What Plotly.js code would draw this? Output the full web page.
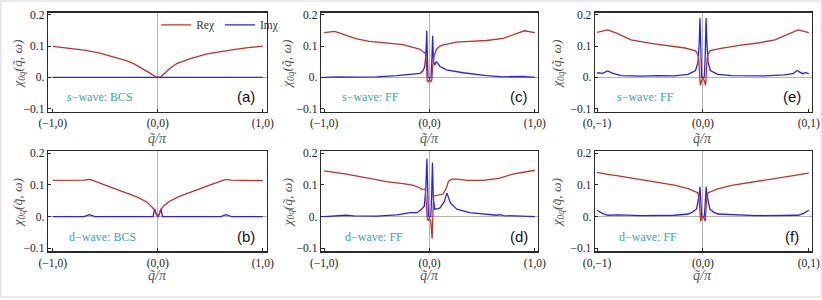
<!DOCTYPE html>
<html><head><meta charset="utf-8">
<script src="https://cdn.plot.ly/plotly-3.0.1.min.js"></script>
<style>html,body{margin:0;padding:0;background:#fff}</style>
</head><body>
<div id="chart" style="width:822px;height:300px"></div>
<script>
// ---- data ----
const qA_re = [-1, -0.85, -0.7, -0.55, -0.4, -0.3, -0.23, -0.14, -0.07, -0.025, 0, 0.03, 0.06, 0.12, 0.18, 0.31, 0.47, 0.6, 0.72, 0.86, 1];
const reA   = [0.099, 0.094, 0.087, 0.078, 0.064, 0.054, 0.044, 0.028, 0.013, 0.003, 0.0, 0.002, 0.012, 0.03, 0.044, 0.06, 0.075, 0.083, 0.089, 0.095, 0.1];
const qA_im = [-1, 0, 1];
const imA   = [0, 0, 0];

const qB_re = [-1, -0.8, -0.7, -0.65, -0.6, -0.5, -0.4, -0.3, -0.2, -0.1, -0.05, -0.03, -0.015, 0, 0.015, 0.03, 0.05, 0.1, 0.2, 0.3, 0.4, 0.5, 0.6, 0.65, 0.7, 0.8, 1];
const reB   = [0.114, 0.114, 0.115, 0.117, 0.112, 0.099, 0.087, 0.075, 0.062, 0.045, 0.03, 0.021, 0.008, 0.0, 0.008, 0.021, 0.031, 0.046, 0.063, 0.076, 0.088, 0.1, 0.112, 0.117, 0.115, 0.114, 0.113];
const qB_im = [-1, -0.7, -0.67, -0.65, -0.63, -0.6, -0.045, -0.03, -0.018, -0.006, 0, 0.006, 0.018, 0.03, 0.045, 0.6, 0.63, 0.65, 0.67, 0.7, 1];
const imB   = [0, 0, 0.004, 0.006, 0.004, 0, 0, 0.024, 0.01, 0.0, 0, 0.0, 0.01, 0.024, 0, 0, 0.004, 0.006, 0.004, 0, 0];

const qC_re = [-1, -0.9, -0.79, -0.69, -0.57, -0.41, -0.25, -0.155, -0.09, -0.06, -0.04, -0.03, -0.022, -0.012, 0, 0.012, 0.022, 0.03, 0.045, 0.066, 0.1, 0.13, 0.2, 0.256, 0.38, 0.54, 0.7, 0.83, 0.9, 1];
const reC   = [0.143, 0.147, 0.134, 0.123, 0.115, 0.109, 0.105, 0.096, 0.09, 0.081, 0.078, 0.05, -0.01, -0.014, -0.006, -0.013, -0.008, 0.033, 0.07, 0.09, 0.1, 0.104, 0.109, 0.113, 0.115, 0.118, 0.125, 0.139, 0.149, 0.143];
const qC_im = [-1, -0.88, -0.7, -0.5, -0.31, -0.155, -0.09, -0.06, -0.045, -0.035, -0.026, -0.02, -0.014, 0, 0.014, 0.022, 0.03, 0.038, 0.05, 0.064, 0.08, 0.1, 0.16, 0.32, 0.54, 0.7, 0.89, 1];
const imC   = [0, 0.002, 0.001, 0.002, 0.006, 0.01, 0.013, 0.022, 0.035, 0.07, 0.149, 0.06, 0.0, -0.002, 0.0, 0.05, 0.133, 0.05, 0.04, 0.05, 0.045, 0.035, 0.024, 0.015, 0.006, 0.002, 0.003, 0];

const qD_re = [-1, -0.79, -0.57, -0.41, -0.25, -0.15, -0.09, -0.07, -0.04, -0.03, -0.02, -0.01, 0, 0.013, 0.025, 0.038, 0.07, 0.13, 0.16, 0.18, 0.21, 0.26, 0.36, 0.51, 0.67, 0.79, 1];
const reD   = [0.144, 0.134, 0.12, 0.11, 0.104, 0.098, 0.09, 0.085, 0.087, 0.04, -0.01, -0.012, -0.005, -0.016, -0.069, 0.064, 0.066, 0.071, 0.09, 0.111, 0.118, 0.118, 0.114, 0.114, 0.121, 0.134, 0.146];
const qD_im = [-1, -0.85, -0.79, -0.72, -0.5, -0.31, -0.18, -0.12, -0.09, -0.05, -0.035, -0.025, -0.018, -0.01, 0, 0.012, 0.02, 0.028, 0.036, 0.05, 0.08, 0.1, 0.14, 0.165, 0.2, 0.26, 0.38, 0.57, 0.64, 0.67, 0.7, 1];
const imD   = [0, 0.002, 0.004, 0.002, 0.001, 0.005, 0.012, 0.012, 0.019, 0.032, 0.085, 0.182, 0.05, 0.0, 0.0, 0.0, 0.06, 0.17, 0.06, 0.023, 0.025, 0.027, 0.047, 0.074, 0.042, 0.023, 0.012, 0.005, 0.004, 0.006, 0.003, 0];

const qE_re = [-1, -0.9, -0.8, -0.68, -0.49, -0.33, -0.17, -0.07, -0.05, -0.04, -0.025, -0.012, 0, 0.012, 0.025, 0.04, 0.05, 0.07, 0.17, 0.36, 0.52, 0.68, 0.8, 0.9, 1];
const reE   = [0.144, 0.152, 0.139, 0.12, 0.109, 0.102, 0.094, 0.085, 0.075, 0.06, -0.025, -0.01, -0.002, -0.01, -0.025, 0.06, 0.075, 0.086, 0.093, 0.103, 0.11, 0.12, 0.138, 0.152, 0.143];
const qE_im = [-1, -0.95, -0.9, -0.85, -0.77, -0.58, -0.43, -0.27, -0.14, -0.07, -0.047, -0.035, -0.028, -0.02, -0.012, 0, 0.012, 0.02, 0.03, 0.037, 0.049, 0.07, 0.14, 0.27, 0.43, 0.58, 0.77, 0.85, 0.89, 0.94, 0.97, 1];
const imE   = [0.015, 0.013, 0.021, 0.013, 0.006, 0.004, 0.006, 0.005, 0.01, 0.022, 0.047, 0.11, 0.19, 0.05, 0.0, 0.0, 0.0, 0.05, 0.19, 0.11, 0.047, 0.022, 0.01, 0.006, 0.005, 0.005, 0.008, 0.012, 0.022, 0.012, 0.015, 0.012];

const qF_re = [-1, -0.95, -0.9, -0.8, -0.58, -0.43, -0.27, -0.14, -0.085, -0.05, -0.038, -0.03, -0.022, -0.01, 0, 0.01, 0.022, 0.03, 0.038, 0.05, 0.085, 0.14, 0.27, 0.43, 0.58, 0.8, 0.9, 0.95, 1];
const reF   = [0.139, 0.137, 0.133, 0.128, 0.116, 0.107, 0.099, 0.088, 0.08, 0.075, 0.064, 0.03, -0.015, -0.005, 0.0, -0.005, -0.015, 0.03, 0.066, 0.075, 0.08, 0.087, 0.098, 0.107, 0.115, 0.127, 0.132, 0.135, 0.137];
const qF_im = [-1, -0.95, -0.9, -0.8, -0.58, -0.27, -0.14, -0.1, -0.06, -0.045, -0.035, -0.028, -0.02, -0.012, 0, 0.012, 0.02, 0.03, 0.037, 0.047, 0.065, 0.1, 0.14, 0.5, 0.8, 0.9, 0.95, 1];
const imF   = [0.02, 0.01, 0.004, 0.005, 0.003, 0.004, 0.008, 0.014, 0.024, 0.049, 0.07, 0.094, 0.03, 0.0, 0.0, 0.0, 0.03, 0.094, 0.07, 0.049, 0.024, 0.014, 0.008, 0.003, 0.004, 0.004, 0.01, 0.02];

const xTickVals = [-1, 0, 1];
const xTickTextX = ['(\u22121,0)', '(0,0)', '(1,0)'];
const xTickTextY = ['(0,\u22121)', '(0,0)', '(0,1)'];
const yTickVals = [-0.1, 0, 0.1, 0.2];
const yTickText = ['\u22120.1', '0.', '0.1', '0.2'];
const waveLabels = ['s\u2212wave: BCS', 'd\u2212wave: BCS', 's\u2212wave: FF', 'd\u2212wave: FF', 's\u2212wave: FF', 'd\u2212wave: FF'];
const panelLabels = ['(a)', '(b)', '(c)', '(d)', '(e)', '(f)'];
const xTitle = 'q\u0303/\u03c0';
const yTitle = '\u03c7<sub>0q</sub>(q\u0303, \u03c9)';

// ---- styling ----
const RED = '#c4302b', BLUE = '#2424f2', TEAL = '#3aa6a6';
const SERIF = 'Liberation Serif, DejaVu Serif, serif';
const SANS = 'Liberation Sans, Arial, sans-serif';

const panels = [
  {qr: qA_re, re: reA, qi: qA_im, im: imA},
  {qr: qB_re, re: reB, qi: qB_im, im: imB},
  {qr: qC_re, re: reC, qi: qC_im, im: imC},
  {qr: qD_re, re: reD, qi: qD_im, im: imD},
  {qr: qE_re, re: reE, qi: qE_im, im: imE},
  {qr: qF_re, re: reF, qi: qF_im, im: imF}
];
const colDom = [[0.0584, 0.3248], [0.3905, 0.6545], [0.7238, 0.9878]];
const rowDom = [[0.627, 0.958], [0.162, 0.497]];
const xRanges = [[-1.045, 1.04], [-1.03, 1.03], [-1.02, 1.03]];
const yTitleX = [0.023, 0.3504, 0.6788];
const yTitleY = [0.787, 0.325];
const xTitleY = [0.54, 0.083];
const wavePos = [-0.55, -0.53, -0.56, -0.53, -0.54, -0.52];
const labPos = [0.84, 0.84, 0.85, 0.85, 0.84, 0.84];

const traces = [];
const layout = {
  width: 822, height: 300,
  margin: {l: 0, r: 0, t: 0, b: 0},
  paper_bgcolor: '#ffffff', plot_bgcolor: '#ffffff',
  showlegend: true,
  legend: {orientation: 'h', x: 0.19, y: 0.917, xanchor: 'left', yanchor: 'middle',
           font: {family: SERIF, size: 11.5, color: '#333'}, itemwidth: 30, bgcolor: 'rgba(0,0,0,0)'},
  annotations: [],
  shapes: [{type: 'rect', xref: 'paper', yref: 'paper', x0: 0.001, x1: 0.999, y0: 0.01, y1: 0.997,
            line: {color: '#e4e4e4', width: 1.5}}]
};

panels.forEach((p, i) => {
  const n = i + 1;
  const xa = n === 1 ? 'x' : 'x' + n;
  const ya = n === 1 ? 'y' : 'y' + n;
  const col = Math.floor(i / 2), row = i % 2;
  traces.push({x: p.qi, y: p.im, xaxis: xa, yaxis: ya, type: 'scatter', mode: 'lines',
               name: 'Im\u03c7', line: {color: BLUE, width: 1.3}, showlegend: false});
  traces.push({x: p.qr, y: p.re, xaxis: xa, yaxis: ya, type: 'scatter', mode: 'lines',
               name: 'Re\u03c7', line: {color: RED, width: 1.3}, showlegend: false});
  const axCommon = {showline: true, mirror: true, linecolor: '#2a2a2a', linewidth: 1.3,
                    ticks: 'inside', ticklen: 3, tickcolor: '#2a2a2a', showgrid: false,
                    zeroline: true, zerolinecolor: '#b4b4b4', zerolinewidth: 1,
                    tickfont: {family: SERIF, size: 11.5, color: '#222'}, fixedrange: true};
  layout['xaxis' + (n === 1 ? '' : n)] = Object.assign({}, axCommon, {
    domain: colDom[col], anchor: ya, range: xRanges[col],
    tickvals: xTickVals, ticktext: col === 2 ? xTickTextY : xTickTextX
  });
  layout['yaxis' + (n === 1 ? '' : n)] = Object.assign({}, axCommon, {
    domain: rowDom[row], anchor: xa, range: [-0.11, 0.207],
    tickvals: yTickVals, ticktext: yTickText
  });
  // axis titles
  layout.annotations.push({xref: xa, yref: 'paper', x: 0, y: xTitleY[row], text: xTitle,
    xanchor: 'center', yanchor: 'middle',
    showarrow: false, font: {family: SERIF, size: 14, color: '#555', style: 'italic'}});
  layout.annotations.push({xref: 'paper', yref: 'paper', x: yTitleX[col], y: yTitleY[row], text: yTitle,
    xanchor: 'center', yanchor: 'middle', textangle: -90,
    showarrow: false, font: {family: SERIF, size: 13.5, color: '#555', style: 'italic'}});
  layout.annotations.push({xref: xa, yref: ya, x: wavePos[i], y: -0.064, text: waveLabels[i],
    xanchor: 'center', yanchor: 'middle',
    showarrow: false, font: {family: SERIF, size: 12, color: TEAL}});
  layout.annotations.push({xref: xa, yref: ya, x: labPos[i], y: -0.062, text: panelLabels[i],
    xanchor: 'center', yanchor: 'middle',
    showarrow: false, font: {family: SANS, size: 15, color: '#111'}});
});
traces[1].showlegend = true;
traces[0].showlegend = true;
const ordered = [traces[1], traces[0]].concat(traces.slice(2));
Plotly.newPlot('chart', ordered, layout, {staticPlot: true, displayModeBar: false});
</script>
</body></html>
